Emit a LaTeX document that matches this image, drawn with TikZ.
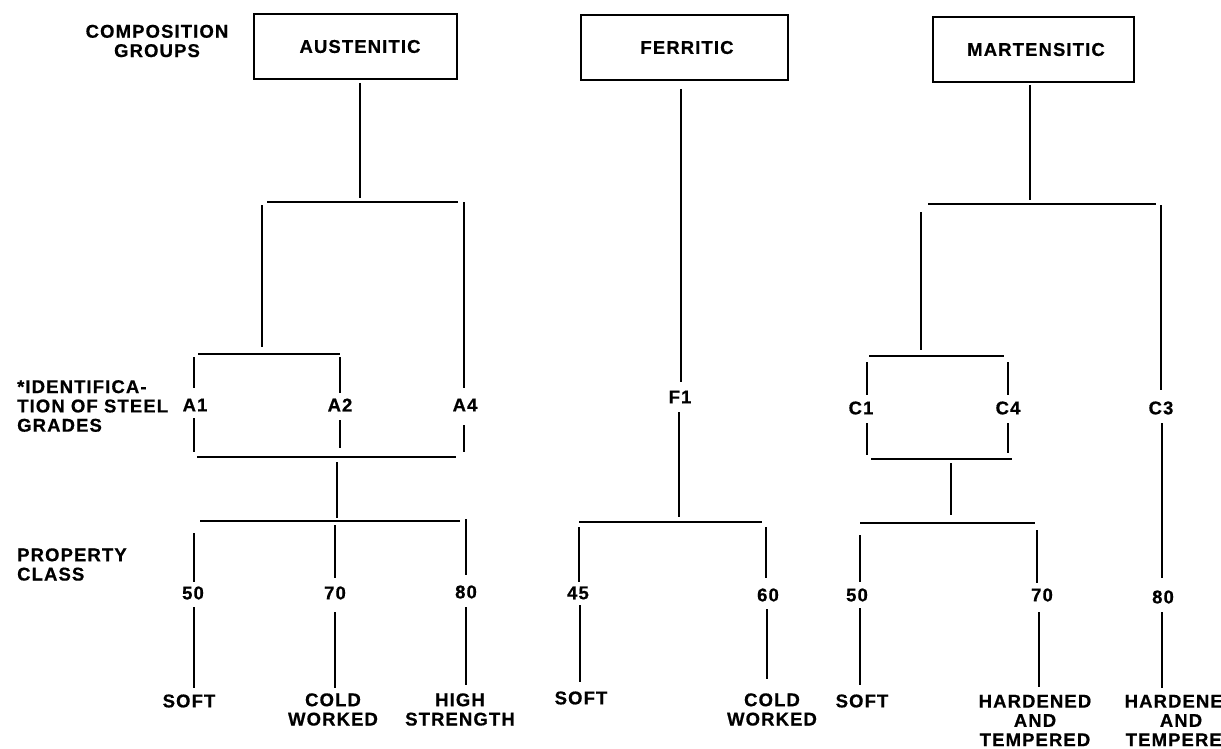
\documentclass[tikz,border=0pt]{standalone}
\usepackage{fontspec}
\newfontfamily\labfont{Liberation Sans Bold}[LetterSpace=6,FakeBold=0.6]
\begin{document}
\begin{tikzpicture}[x=1pt,y=-1pt,
  ln/.style={line width=1.4pt},
  lab/.style={inner sep=0pt,font=\labfont\fontsize{18.5}{19.3}\selectfont},
  grp/.style={draw,line width=1.4pt,inner sep=0pt,minimum height=65pt,font=\labfont\fontsize{18.5}{19.3}\selectfont}]
\useasboundingbox (0,0) rectangle (1221,749);
\clip (0,0) rectangle (1221,749);
\fill[white] (0,0) rectangle (1221,749);
% left labels
\node[lab,align=center] (comp) at (157,41) {COMPOSITION\\GROUPS};
\node[lab,align=left,anchor=west] (ident) at (17,406) {*IDENTIFICA-\\TION OF STEEL\\GRADES};
\node[lab,align=left,anchor=west] (prop) at (17,564.5) {PROPERTY\\CLASS};
% group boxes
\node[grp,minimum width=203pt] (aus) at (355.5,46.5) {\hspace*{9pt}AUSTENITIC};
\node[grp,minimum width=207pt] (fer) at (684.5,47.5) {\hspace*{5pt}FERRITIC};
\node[grp,minimum width=201pt] (mar) at (1033.5,49.5) {\hspace*{5pt}MARTENSITIC};
% ---------- Austenitic ----------
\node[lab] (A1) at (195,405) {A1};
\node[lab] (A2) at (340,405) {A2};
\node[lab] (A4) at (465,405) {A4};
\node[lab] (a50) at (193,593) {50};
\node[lab] (a70) at (335,593) {70};
\node[lab] (a80) at (466,592) {80};
\node[lab] (asoft) at (189,701) {SOFT};
\node[lab,align=center] (acold) at (333,709.5) {COLD\\WORKED};
\node[lab,align=center] (ahigh) at (460,709.5) {HIGH\\STRENGTH};
\draw[ln] (360,83) -- (360,198);
\draw[ln] (267,202) -- (458,202);
\draw[ln] (262,205) -- (262,347);
\draw[ln] (464,202) -- (464,388);
\draw[ln] (464,425) -- (464,452);
\draw[ln] (198,354) -- (340,354);
\draw[ln] (194,357) -- (194,388);
\draw[ln] (194,418) -- (194,452);
\draw[ln] (340,357) -- (340,393);
\draw[ln] (340,420) -- (340,448);
\draw[ln] (197,457) -- (456,457);
\draw[ln] (337,462) -- (337,518);
\draw[ln] (200,521) -- (460,521);
\draw[ln] (194,533) -- (194,582);
\draw[ln] (194,607) -- (194,688);
\draw[ln] (335,525) -- (335,578);
\draw[ln] (335,612) -- (335,688);
\draw[ln] (466,519) -- (466,575);
\draw[ln] (466,607) -- (466,685);
% ---------- Ferritic ----------
\node[lab] (F1) at (680,397) {F1};
\node[lab] (f45) at (578,593) {45};
\node[lab] (f60) at (768,595) {60};
\node[lab] (fsoft) at (581,698) {SOFT};
\node[lab,align=center] (fcold) at (772,709.5) {COLD\\WORKED};
\draw[ln] (681,89) -- (681,382);
\draw[ln] (679,412) -- (679,517);
\draw[ln] (579,522) -- (762,522);
\draw[ln] (579,527) -- (579,582);
\draw[ln] (580,605) -- (580,682);
\draw[ln] (766,527) -- (766,578);
\draw[ln] (767,609) -- (767,679);
% ---------- Martensitic ----------
\node[lab] (C1) at (861,408) {C1};
\node[lab] (C4) at (1008,408) {C4};
\node[lab] (C3) at (1161,408) {C3};
\node[lab] (m50) at (857,595) {50};
\node[lab] (m70) at (1042,595) {70};
\node[lab] (m80) at (1163,597) {80};
\node[lab] (msoft) at (862,701) {SOFT};
\node[lab,align=center] (mhard) at (1035,720.5) {HARDENED\\AND\\TEMPERED};
\node[lab,align=center] (mhardb) at (1181,720.5) {HARDENED\\AND\\TEMPERED};
\draw[ln] (1030,85) -- (1030,200);
\draw[ln] (928,204) -- (1156,204);
\draw[ln] (921,212) -- (921,350);
\draw[ln] (1161,205) -- (1161,390);
\draw[ln] (1162,423) -- (1162,578);
\draw[ln] (1162,612) -- (1162,688);
\draw[ln] (869,356) -- (1004,356);
\draw[ln] (867,362) -- (867,395);
\draw[ln] (867,423) -- (867,455);
\draw[ln] (1008,362) -- (1008,395);
\draw[ln] (1008,423) -- (1008,453);
\draw[ln] (871,459) -- (1012,459);
\draw[ln] (951,463) -- (951,515);
\draw[ln] (860,523) -- (1035,523);
\draw[ln] (860,535) -- (860,582);
\draw[ln] (860,608) -- (860,685);
\draw[ln] (1037,530) -- (1037,583);
\draw[ln] (1039,612) -- (1039,687);
\end{tikzpicture}
\end{document}
